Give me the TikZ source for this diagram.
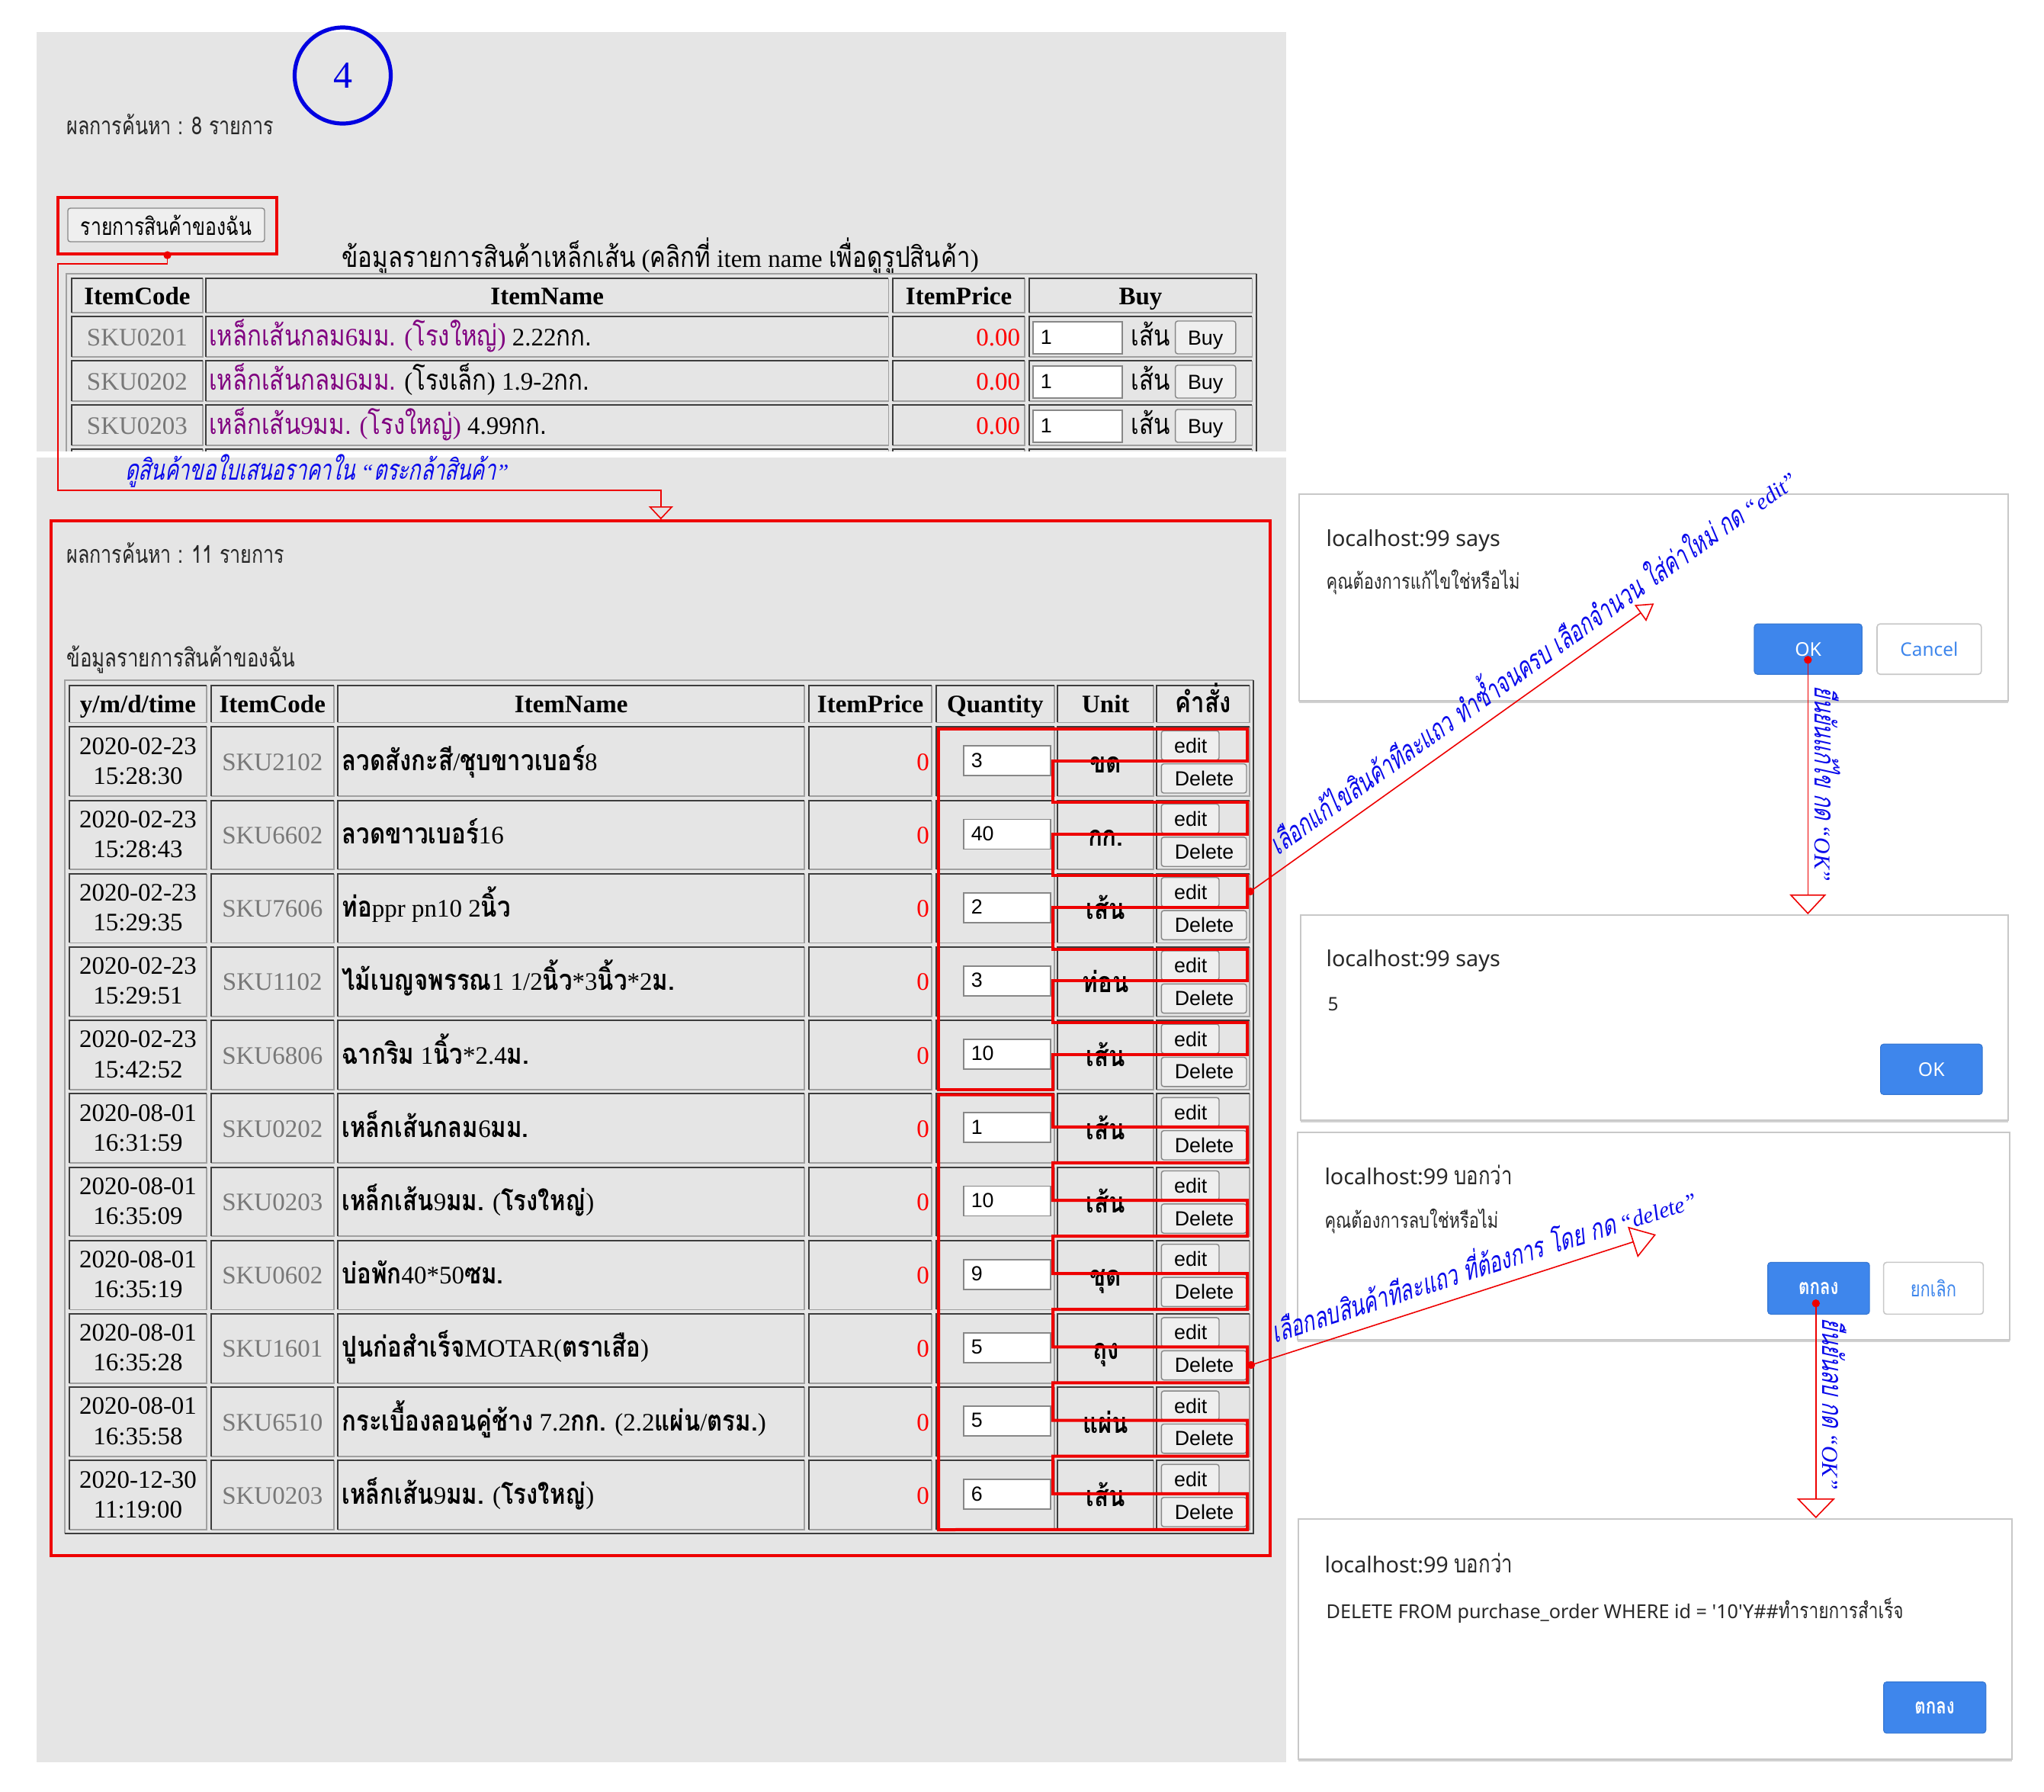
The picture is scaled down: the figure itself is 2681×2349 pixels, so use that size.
\documentclass[tikz,border=0pt]{standalone}
\usepackage{fontspec}
\setmainfont{Liberation Serif}
\newfontfamily\uisans{Noto Sans}
\newfontfamily\arialf{Liberation Sans}
\newfontfamily\thaifont[Script=Thai,Scale=1.26,FakeStretch=0.71,AutoFakeSlant=0.22]{Loma}
\newfontfamily\thaitab[Script=Thai,Scale=1.14,FakeStretch=0.83]{Loma}
\newfontfamily\thaidlg[Script=Thai,Scale=1.15,FakeStretch=0.78]{Loma}
\newcommand\thaitabb{\thaitab\bfseries}
\let\thaisel\thaifont
\newcommand\tht[1]{{\thaisel #1}}
\usetikzlibrary{arrows.meta,shadows}

\definecolor{panelgray}{RGB}{229,229,229}
\definecolor{hred}{RGB}{238,0,0}
\definecolor{ablue}{RGB}{10,10,235}
\definecolor{cblue}{RGB}{0,0,225}
\definecolor{skugray}{RGB}{120,120,120}
\definecolor{purp}{RGB}{128,0,128}
\definecolor{btnblue}{RGB}{62,134,236}
\definecolor{cdark}{RGB}{60,60,60}
\definecolor{clight}{RGB}{160,160,160}
\definecolor{ctlbg}{RGB}{239,239,239}
\definecolor{ctlline}{RGB}{135,135,135}
\definecolor{dlgline}{RGB}{200,200,200}
\definecolor{pricered}{RGB}{255,0,0}
\definecolor{dlgtext}{RGB}{40,40,40}

\tikzset{
  tab/.style={font=\fontsize{8.25}{9.9}\selectfont\let\thaisel\thaitab, inner sep=0pt},
  tabname/.style={font=\fontsize{8.25}{9.9}\selectfont\let\thaisel\thaitabb, inner sep=0pt},
  tabb/.style={font=\fontsize{8.25}{9.9}\selectfont\bfseries\let\thaisel\thaitab, inner sep=0pt},
  ctl/.style={font=\arialf\fontsize{6.7}{8}\selectfont, inner sep=0pt},
  small/.style={font=\fontsize{7}{8}\selectfont\let\thaisel\thaidlg, inner sep=0pt, text=black!85},
  ctlbtn/.style={fill=ctlbg, draw=ctlline, line width=0.35pt, rounded corners=0.8pt},
  inbox/.style={fill=white, draw=ctlline, line width=0.45pt},
  hl/.style={draw=hred, line width=1pt},
  conn/.style={draw=hred, line width=0.4pt},
  ann/.style={text=ablue, font=\fontsize{7.45}{9}\selectfont\itshape, inner sep=0pt},
  dlg/.style={fill=white, draw=dlgline, line width=0.5pt, inner sep=0pt,
              drop shadow={shadow xshift=0pt, shadow yshift=-0.7pt, opacity=0.35}},
  dlgtitle/.style={font=\uisans\fontsize{7.2}{8}\selectfont\let\thaisel\thaidlg, text=dlgtext, inner sep=0pt},
  dlgmsg/.style={font=\uisans\fontsize{6.1}{7}\selectfont\let\thaisel\thaidlg, text=dlgtext, inner sep=0pt},
  okbtn/.style={fill=btnblue, draw=btnblue!90!black, line width=0.3pt, rounded corners=1pt,
                text=white, font=\uisans\fontsize{6.2}{7}\selectfont\bfseries\let\thaisel\thaidlg, inner sep=0pt},
  nobtn/.style={fill=white, draw=dlgline, line width=0.4pt, rounded corners=1pt,
                text=btnblue, font=\uisans\fontsize{6.1}{7}\selectfont\let\thaisel\thaidlg, inner sep=0pt},
}

% inset table cell: #1 x1, #2 y1, #3 x2, #4 y2
\newcommand\tcell[4]{%
  \draw[clight, line width=0.45pt] ({#1},{#4}) -- ({#3},{#4}) -- ({#3},{#2});
  \draw[cdark, line width=0.5pt] ({#1},{#4}) -- ({#1},{#2}) -- ({#3},{#2});}

% first table: cells of one row
\newcommand\cellsA[1]{%
  \tcell{94.3}{#1}{265.6}{#1+53}\tcell{270}{#1}{1165.4}{#1+53}%
  \tcell{1170.9}{#1}{1344.3}{#1+53}\tcell{1349.7}{#1}{1642.4}{#1+53}}
% first table row: #1 index, #2 top, #3 sku, #4 purple name, #5 rest
\newcommand\tabArow[5]{%
  \cellsA{#2}%
  \node[tab, anchor=base, text=skugray] (aSku#1) at (180,{#2+38}) {#3};
  \node[tab, anchor=base west] (aName#1) at (273.2,{#2+38}) {{\color{purp}#4}#5};
  \node[tab, anchor=base east, text=pricered] (aPrice#1) at (1339,{#2+38}) {0.00};
  \draw[inbox] (1355,{#2+7}) rectangle (1472,{#2+49});
  \node[ctl, anchor=base west] (aQty#1) at (1364,{#2+36}) {1};
  \node[tab, anchor=base west] (aUnit#1) at (1483,{#2+38}) {\tht{เส้น}};
  \draw[ctlbtn] (1541.6,{#2+6}) rectangle (1620.8,{#2+49});
  \node[ctl, anchor=base] (aBuy#1) at (1581.2,{#2+37}) {Buy};
}
% second table row: #1 index, #2 date, #3 time, #4 sku, #5 name, #6 qty, #7 unit
\newcommand\tabBrow[7]{%
  \pgfmathsetmacro\rt{953.3+96.2*(#1-1)}%
  \tcell{91}{\rt}{271}{\rt+90.7}\tcell{276.5}{\rt}{438}{\rt+90.7}%
  \tcell{443.4}{\rt}{1054.9}{\rt+90.7}\tcell{1061.4}{\rt}{1221.8}{\rt+90.7}%
  \tcell{1228}{\rt}{1382.7}{\rt+90.7}\tcell{1387.3}{\rt}{1513.3}{\rt+90.7}%
  \tcell{1517.3}{\rt}{1639.3}{\rt+90.7}%
  \node[tab, anchor=base] (bDate#1) at (181,{\rt+35.7}) {#2};
  \node[tab, anchor=base] (bTime#1) at (181,{\rt+75}) {#3};
  \node[tab, anchor=base, text=skugray] (bSku#1) at (357.3,{\rt+57}) {#4};
  \node[tabname, anchor=base west] (bName#1) at (447.7,{\rt+57}) {#5};
  \node[tab, anchor=base east, text=pricered] (bPrice#1) at (1219.6,{\rt+57}) {0};
  \draw[inbox] (1264,{\rt+25}) rectangle (1378.3,{\rt+64});
  \node[ctl, anchor=base west] (bQty#1) at (1273,{\rt+52.7}) {#6};
  \node[tabb, anchor=base] (bUnit#1) at (1450.3,{\rt+60}) {\tht{#7}};
  \draw[ctlbtn] (1523.3,{\rt+5}) rectangle (1599,{\rt+43.4});
  \node[ctl, anchor=base west] (bEdit#1) at (1539.3,{\rt+34}) {edit};
  \draw[ctlbtn] (1523.3,{\rt+48.4}) rectangle (1635,{\rt+86.7});
  \node[ctl, anchor=base west] (bDel#1) at (1540,{\rt+76.7}) {Delete};
}

\begin{document}
\begin{tikzpicture}[x=0.25pt,y=-0.25pt]
\useasboundingbox (0,0) rectangle (2681,2349);
\fill[white] (0,0) rectangle (2681,2349);
\fill[panelgray] (47.7,41.5) rectangle (1686.7,591.5);
\fill[panelgray] (47.7,600) rectangle (1686.7,2311);

% ---------- top screenshot ----------
\node[draw=cblue, circle, line width=1.3pt, minimum size=31.5pt, inner sep=0pt,
      text=cblue, font=\fontsize{12.5}{12.5}\selectfont] (num) at (449.5,99) {4};
\node[small, anchor=base west] (res1) at (86.7,176) {\tht{ผลการค้นหา : 8 รายการ}};
\node[ctlbtn, minimum width=64.5pt, minimum height=11pt, inner sep=0pt,
      font=\fontsize{6.9}{8}\selectfont\let\thaisel\thaidlg] (mybtn) at (218,295) {\tht{รายการสินค้าของฉัน}};
\node[draw=hred, line width=1pt, minimum width=71.8pt, minimum height=18.4pt,
      inner sep=0pt] (btnbox) at (219.55,295.8) {};
\node[tab, anchor=base] (t1title) at (866.2,350)
      {\tht{ข้อมูลรายการสินค้าเหล็กเส้น} (\tht{คลิกที่} item name \tht{เพื่อดูรูปสินค้า})};

\begin{scope}
\clip (47.7,41.5) rectangle (1686.7,591.5);
\draw[clight, line width=0.5pt] (86.7,640) -- (86.7,359.4) -- (1648,359.4);
\draw[cdark, line width=0.5pt] (1648,359.4) -- (1648,640);
\tcell{94.3}{365}{265.6}{410}\tcell{270}{365}{1165.4}{410}
\tcell{1170.9}{365}{1344.3}{410}\tcell{1349.7}{365}{1642.4}{410}
\node[tabb, anchor=base] (hA1) at (180,399) {ItemCode};
\node[tabb, anchor=base] (hA2) at (717.7,399) {ItemName};
\node[tabb, anchor=base] (hA3) at (1257.6,399) {ItemPrice};
\node[tabb, anchor=base] (hA4) at (1496,399) {Buy};
\tabArow{1}{415}{SKU0201}{\tht{เหล็กเส้นกลม}6\tht{มม.} (\tht{โรงใหญ่})}{ 2.22\tht{กก.}}
\tabArow{2}{473}{SKU0202}{\tht{เหล็กเส้นกลม}6\tht{มม.}}{ (\tht{โรงเล็ก}) 1.9-2\tht{กก.}}
\tabArow{3}{531}{SKU0203}{\tht{เหล็กเส้น}9\tht{มม.} (\tht{โรงใหญ่})}{ 4.99\tht{กก.}}
\cellsA{589}
\end{scope}

\node[ann, anchor=base west] (annTop) at (163.5,629)
      {\tht{ดูสินค้าขอใบเสนอราคาใน} “\tht{ตระกล้าสินค้า}”};

% ---------- second screenshot ----------
\node[draw=hred, line width=1pt, minimum width=399.8pt, minimum height=339.3pt,
      inner sep=0pt] (bigbox) at (866.85,1361.8) {};
\node[small, anchor=base west] (res2) at (86.7,738) {\tht{ผลการค้นหา : 11 รายการ}};
\node[small, anchor=base west, font=\fontsize{7.2}{8}\selectfont\let\thaisel\thaidlg] (t2title) at (86.7,874.5)
      {\tht{ข้อมูลรายการสินค้าของฉัน}};

\draw[clight, line width=0.5pt] (84.6,2011) -- (84.6,892.3) -- (1644.3,892.3);
\draw[cdark, line width=0.5pt] (1644.3,892.3) -- (1644.3,2011) -- (84.6,2011);
\tcell{91}{898.5}{271}{947.4}\tcell{276.5}{898.5}{438}{947.4}
\tcell{443.4}{898.5}{1054.9}{947.4}\tcell{1061.4}{898.5}{1221.8}{947.4}
\tcell{1228}{898.5}{1382.7}{947.4}\tcell{1387.3}{898.5}{1513.3}{947.4}
\tcell{1517.3}{898.5}{1639.3}{947.4}
\node[tabb, anchor=base] (hB1) at (181,934) {y/m/d/time};
\node[tabb, anchor=base] (hB2) at (357.3,934) {ItemCode};
\node[tabb, anchor=base] (hB3) at (749.2,934) {ItemName};
\node[tabb, anchor=base] (hB4) at (1141.6,934) {ItemPrice};
\node[tabb, anchor=base] (hB5) at (1305.4,934) {Quantity};
\node[tabb, anchor=base] (hB6) at (1450.3,934) {Unit};
\node[tabb, anchor=base] (hB7) at (1578.3,934) {\tht{คำสั่ง}};

\tabBrow{1}{2020-02-23}{15:28:30}{SKU2102}{\tht{ลวดสังกะสี}/\tht{ชุบขาวเบอร์}8}{3}{ขด}
\tabBrow{2}{2020-02-23}{15:28:43}{SKU6602}{\tht{ลวดขาวเบอร์}16}{40}{กก.}
\tabBrow{3}{2020-02-23}{15:29:35}{SKU7606}{\tht{ท่อ}ppr pn10 2\tht{นิ้ว}}{2}{เส้น}
\tabBrow{4}{2020-02-23}{15:29:51}{SKU1102}{\tht{ไม้เบญจพรรณ}1 1/2\tht{นิ้ว}*3\tht{นิ้ว}*2\tht{ม.}}{3}{ท่อน}
\tabBrow{5}{2020-02-23}{15:42:52}{SKU6806}{\tht{ฉากริม} 1\tht{นิ้ว}*2.4\tht{ม.}}{10}{เส้น}
\tabBrow{6}{2020-08-01}{16:31:59}{SKU0202}{\tht{เหล็กเส้นกลม}6\tht{มม.}}{1}{เส้น}
\tabBrow{7}{2020-08-01}{16:35:09}{SKU0203}{\tht{เหล็กเส้น}9\tht{มม.} (\tht{โรงใหญ่})}{10}{เส้น}
\tabBrow{8}{2020-08-01}{16:35:19}{SKU0602}{\tht{บ่อพัก}40*50\tht{ซม.}}{9}{ชุด}
\tabBrow{9}{2020-08-01}{16:35:28}{SKU1601}{\tht{ปูนก่อสำเร็จ}MOTAR(\tht{ตราเสือ})}{5}{ถุง}
\tabBrow{10}{2020-08-01}{16:35:58}{SKU6510}{\tht{กระเบื้องลอนคู่ช้าง} 7.2\tht{กก.} (2.2\tht{แผ่น}/\tht{ตรม.})}{5}{แผ่น}
\tabBrow{11}{2020-12-30}{11:19:00}{SKU0203}{\tht{เหล็กเส้น}9\tht{มม.} (\tht{โรงใหญ่})}{6}{เส้น}

% red highlight: quantity + edit (rows 1-5)
\draw[hl] (1231,956)
  \foreach \r in {1,...,5}{
    -- (1381,{953.3+96.2*(\r-1)+2.7}) -- (1636,{953.3+96.2*(\r-1)+2.7})
    -- (1636,{953.3+96.2*(\r-1)+44.4}) -- (1381,{953.3+96.2*(\r-1)+44.4}) }
  -- (1381,1428.8) -- (1231,1428.8) -- cycle;
% red highlight: quantity + delete (rows 6-11)
\draw[hl] (1231,1435.5) -- (1381,1435.5)
  \foreach \r in {6,...,11}{
    -- (1381,{953.3+96.2*(\r-1)+43.5}) -- (1636,{953.3+96.2*(\r-1)+43.5})
    -- (1636,{953.3+96.2*(\r-1)+90.5}) -- (1381,{953.3+96.2*(\r-1)+90.5}) }
  -- (1231,2006) -- cycle;

% ---------- dialogs ----------
\node[dlg, minimum width=232.6pt, minimum height=67.75pt] (d1) at (2169.1,783.2) {};
\node[dlg, minimum width=232.1pt, minimum height=67.35pt] (d2) at (2170.1,1334.7) {};
\node[dlg, minimum width=233.65pt, minimum height=67.9pt] (d3) at (2169,1620.9) {};
\node[dlg, minimum width=234.2pt, minimum height=78.8pt] (d4) at (2171,2149.6) {};

\node[dlgtitle, anchor=base west] (d1t) at (1738.8,716) {localhost:99 says};
\node[dlgmsg, anchor=base west] (d1m) at (1738.8,772) {\tht{คุณต้องการแก้ไขใช่หรือไม่}};
\node[okbtn, minimum width=35.3pt, minimum height=16.5pt] (d1ok) at (2371.65,851.2) {OK};
\node[nobtn, minimum width=34.2pt, minimum height=16.5pt] (d1no) at (2530.4,851.2) {Cancel};

\node[dlgtitle, anchor=base west] (d2t) at (1738.8,1267) {localhost:99 says};
\node[dlgmsg, anchor=base west] (d2m) at (1740.7,1325) {5};
\node[okbtn, minimum width=33.35pt, minimum height=16.5pt] (d2ok) at (2533.3,1402.3) {OK};

\node[dlgtitle, anchor=base west] (d3t) at (1736.7,1553.3) {localhost:99 \tht{บอกว่า}};
\node[dlgmsg, anchor=base west] (d3m) at (1736.7,1610) {\tht{คุณต้องการลบใช่หรือไม่}};
\node[okbtn, minimum width=33.35pt, minimum height=17pt] (d3ok) at (2385.4,1689.4) {\tht{ตกลง}};
\node[nobtn, minimum width=32.7pt, minimum height=17pt] (d3no) at (2536,1689.4) {\tht{ยกเลิก}};

\node[dlgtitle, anchor=base west] (d4t) at (1736.8,2062.4) {localhost:99 \tht{บอกว่า}};
\node[dlgmsg, anchor=base west, font=\uisans\fontsize{6.3}{7}\selectfont\let\thaisel\thaidlg] (d4m) at (1738.8,2122)
      {DELETE FROM purchase\_order WHERE id = '10'Y\#\#\tht{ทำรายการสำเร็จ}};
\node[okbtn, minimum width=33.5pt, minimum height=16.8pt] (d4ok) at (2537.65,2239.25) {\tht{ตกลง}};

% ---------- connectors ----------
\coordinate (k1) at (75.9,346);
\coordinate (k2) at (75.9,643);
\draw[conn, -{Triangle[open, length=4.3pt, width=8pt]}]
  (btnbox.south) |- (k1) -- (k2) -| (bigbox.north);
\fill[hred] (btnbox.south) circle[radius=1.3pt];

\coordinate (editdot) at (1640,1169);
\coordinate (editTip) at (2169.4,791.3);
\draw[conn, -{Triangle[open, length=5.5pt, width=6.5pt]}] (editdot) -- (editTip);
\fill[hred] (editdot) circle[radius=1.3pt];
\node[ann, anchor=base west, rotate=35.5] (annEdit) at (1676.3,1122.5)
  {\tht{เลือกแก้ไขสินค้าทีละแถว ทำซ้ำจนครบ เลือกจำนวน ใส่ค่าใหม่ กด} “edit”};

\coordinate (deldot) at (1641,1790);
\coordinate (delTip) at (2172,1619);
\draw[conn, -{Triangle[open, length=8pt, width=10.5pt]}] (deldot) -- (delTip);
\fill[hred] (deldot) circle[radius=1.3pt];
\node[ann, anchor=base west, rotate=17.8] (annDel) at (1671.7,1761.7)
  {\tht{เลือกลบสินค้าทีละแถว ที่ต้องการ โดย กด} “delete”};

\coordinate (okdot1) at (2371.3,865.3);
\draw[conn, -{Triangle[open, length=6.5pt, width=12pt]}] (okdot1) -- (okdot1 |- d2.north);
\fill[hred] (okdot1) circle[radius=1.3pt];
\node[ann, anchor=base west, rotate=-90] (annOk1) at (2380,898.6) {\tht{ยืนยันแก้ไข กด} “OK”};

\coordinate (okdot2) at (2381.8,1709.2);
\draw[conn, -{Triangle[open, length=6.5pt, width=12.5pt]}] (okdot2) -- (okdot2 |- d4.north);
\fill[hred] (okdot2) circle[radius=1.3pt];
\node[ann, anchor=base west, rotate=-90] (annOk2) at (2390,1728) {\tht{ยืนยันลบ กด} “OK”};
\end{tikzpicture}
\end{document}
